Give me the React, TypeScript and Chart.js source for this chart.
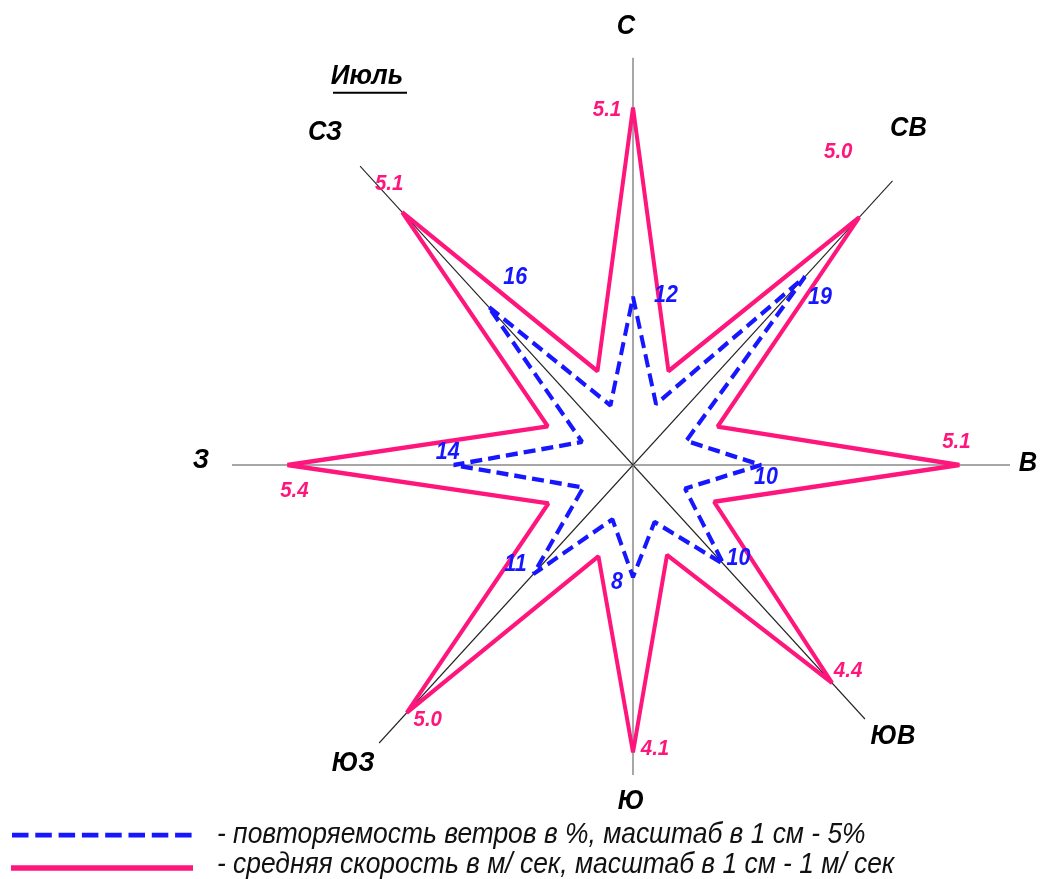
import React, { useEffect, useRef } from 'react';
import { Chart, registerables } from 'chart.js';

Chart.register(...registerables);

// ---- Data (July wind rose) ----
const directions = ['С', 'СВ', 'В', 'ЮВ', 'Ю', 'ЮЗ', 'З', 'СЗ'];
// mean wind speed, m/s (1 cm = 1 m/s)
const speed = [5.1, 5.0, 5.1, 4.4, 4.1, 5.0, 5.4, 5.1];
// inner star vertices of the speed outline, lying between neighbouring directions
const speedBetween = [1.45, 1.43, 1.37, 1.39, 1.41, 1.43, 1.44, 1.45];
// wind frequency, % (1 cm = 5 %)
const frequency = [12, 19, 10, 10, 8, 11, 14, 16];
// inner star vertices of the frequency outline
const frequencyBetween = [4.7, 4.5, 4.4, 4.4, 4.2, 4.2, 4.3, 4.6];

const title = 'Июль';
const legendFrequency = '- повторяемость ветров в %, масштаб в 1 см - 5%';
const legendSpeed = '- средняя скорость в м/ сек, масштаб в 1 см - 1 м/ сек';

// ---- Styles ----
const PINK = 'rgb(255, 22, 125)';
const BLUE = 'rgb(22, 22, 255)';
const STRETCH = 1.095; // the original drawing is slightly taller than wide
const SANS = "'Liberation Sans', Arial, sans-serif";

// axis line lengths (px from centre) per direction
const axisLengthPx = [372, 367, 377, 328, 283, 359, 401, 386];
// label offsets (px)
const dirLabelOffset: [number, number][] = [[-7, -29], [16, -48], [18, -2], [28, 16], [-2, 24], [-26, 19], [-31, -4], [-35, -31]];
const speedLabelOffset: [number, number][] = [[-26, 2], [-21, -60], [-3, -21], [16, -11], [22, -3], [21, 6], [7, 24], [-13, -26]];
const freqLabelOffset: [number, number][] = [[33, -1], [15, 19], [5, 11], [15, -5], [-16, 5], [-18, -9], [-6, -11], [27, -26]];

const labels16 = directions.flatMap((d) => [d, '']);
const speed16 = speed.flatMap((v, i) => [v, speedBetween[i]]);
const frequency16 = frequency.flatMap((v, i) => [v, frequencyBetween[i]]);

function drawText(ctx: CanvasRenderingContext2D, s: string, x: number, y: number, font: string, color: string, align: CanvasTextAlign = 'center', baseline: CanvasTextBaseline = 'middle') {
  ctx.save();
  ctx.font = font;
  ctx.fillStyle = color;
  ctx.textAlign = align;
  ctx.textBaseline = baseline;
  ctx.fillText(s, x, y);
  ctx.restore();
}

const windRosePlugin = {
  id: 'windRose',
  beforeDraw(chart: any) {
    const r = chart.scales.r;
    const ctx = chart.ctx as CanvasRenderingContext2D;
    ctx.save();
    ctx.translate(0, r.yCenter);
    ctx.scale(1, STRETCH);
    ctx.translate(0, -r.yCenter);
  },
  beforeDatasetsDraw(chart: any) {
    const r = chart.scales.r;
    const ctx = chart.ctx as CanvasRenderingContext2D;
    directions.forEach((_, i) => {
      const end = r.getPointPosition(2 * i, axisLengthPx[i]);
      ctx.save();
      ctx.beginPath();
      ctx.moveTo(r.xCenter, r.yCenter);
      ctx.lineTo(end.x, end.y);
      ctx.strokeStyle = i % 2 === 0 ? '#8a8a8a' : '#222222';
      ctx.lineWidth = i % 2 === 0 ? 1.5 : 1.1;
      ctx.stroke();
      ctx.restore();
    });
  },
  afterDatasetsDraw(chart: any) {
    const r = chart.scales.r;
    const r2 = chart.scales.r2;
    const ctx = chart.ctx as CanvasRenderingContext2D;
    directions.forEach((d, i) => {
      const end = r.getPointPosition(2 * i, axisLengthPx[i]);
      drawText(ctx, d, end.x + dirLabelOffset[i][0], end.y + dirLabelOffset[i][1], `italic bold 25.5px ${SANS}`, '#000');
      const tip = r.getPointPositionForValue(2 * i, speed[i]);
      drawText(ctx, speed[i].toFixed(1), tip.x + speedLabelOffset[i][0], tip.y + speedLabelOffset[i][1], `italic bold 20.5px ${SANS}`, PINK);
      const ftip = r2.getPointPositionForValue(2 * i, frequency[i]);
      drawText(ctx, String(frequency[i]), ftip.x + freqLabelOffset[i][0], ftip.y + freqLabelOffset[i][1], `italic bold 21.5px ${SANS}`, BLUE);
    });
    // title
    const tx = r.xCenter - 266;
    const ty = r.yCenter - 355;
    drawText(ctx, title, tx, ty, `italic bold 26px ${SANS}`, '#000');
    ctx.save();
    ctx.beginPath();
    ctx.moveTo(r.xCenter - 300, r.yCenter - 340);
    ctx.lineTo(r.xCenter - 226, r.yCenter - 340);
    ctx.strokeStyle = '#000';
    ctx.lineWidth = 1.8;
    ctx.stroke();
    ctx.restore();
  },
  afterDraw(chart: any) {
    const ctx = chart.ctx as CanvasRenderingContext2D;
    // legend
    ctx.save();
    ctx.beginPath();
    ctx.setLineDash([16.5, 6.8]);
    ctx.moveTo(12, 803);
    ctx.lineTo(193, 803);
    ctx.strokeStyle = BLUE;
    ctx.lineWidth = 4.5;
    ctx.stroke();
    ctx.setLineDash([]);
    ctx.beginPath();
    ctx.moveTo(11, 833);
    ctx.lineTo(193, 833);
    ctx.strokeStyle = PINK;
    ctx.lineWidth = 5;
    ctx.stroke();
    ctx.restore();
    drawText(ctx, legendFrequency, 217, 810.5, `italic 26.4px ${SANS}`, '#111', 'left', 'alphabetic');
    drawText(ctx, legendSpeed, 217, 838, `italic 26.4px ${SANS}`, '#111', 'left', 'alphabetic');
    ctx.restore();
  },
};

export default function App() {
  const canvasRef = useRef<HTMLCanvasElement>(null);
  useEffect(() => {
    const canvas = canvasRef.current;
    if (!canvas) return;
    const radial = (max: number) => ({
      type: 'radialLinear' as const,
      axis: 'r' as const,
      min: 0,
      max,
      display: false,
      ticks: { display: false },
      pointLabels: { display: false },
      grid: { display: false },
      angleLines: { display: false },
    });
    const chart = new Chart(canvas, {
      type: 'radar',
      data: {
        labels: labels16,
        datasets: [
          {
            label: 'Повторяемость ветров, %',
            data: frequency16,
            rAxisID: 'r2',
            borderColor: BLUE,
            borderWidth: 4,
            borderDash: [12, 6],
            borderJoinStyle: 'bevel',
            fill: false,
            pointRadius: 0,
            clip: false,
          } as any,
          {
            label: 'Средняя скорость, м/сек',
            data: speed16,
            rAxisID: 'r',
            borderColor: PINK,
            borderWidth: 4,
            borderJoinStyle: 'bevel',
            fill: false,
            pointRadius: 0,
            clip: false,
          } as any,
        ],
      },
      options: {
        responsive: false,
        animation: false,
        events: [],
        layout: { padding: { left: 249, top: 81, right: 23, bottom: 30 } },
        plugins: {
          legend: { display: false },
          tooltip: { enabled: false },
          title: { display: false },
        },
        elements: { line: { tension: 0 }, point: { radius: 0 } },
        scales: {
          r: radial(6),
          r2: radial(30),
        } as any,
      },
      plugins: [windRosePlugin],
    });
    return () => chart.destroy();
  }, []);
  return (
    <div style={{ position: 'absolute', left: 0, top: 0, width: 1040, height: 879, background: '#fff' }}>
      <canvas ref={canvasRef} width={1040} height={879} style={{ display: 'block' }} />
    </div>
  );
}
